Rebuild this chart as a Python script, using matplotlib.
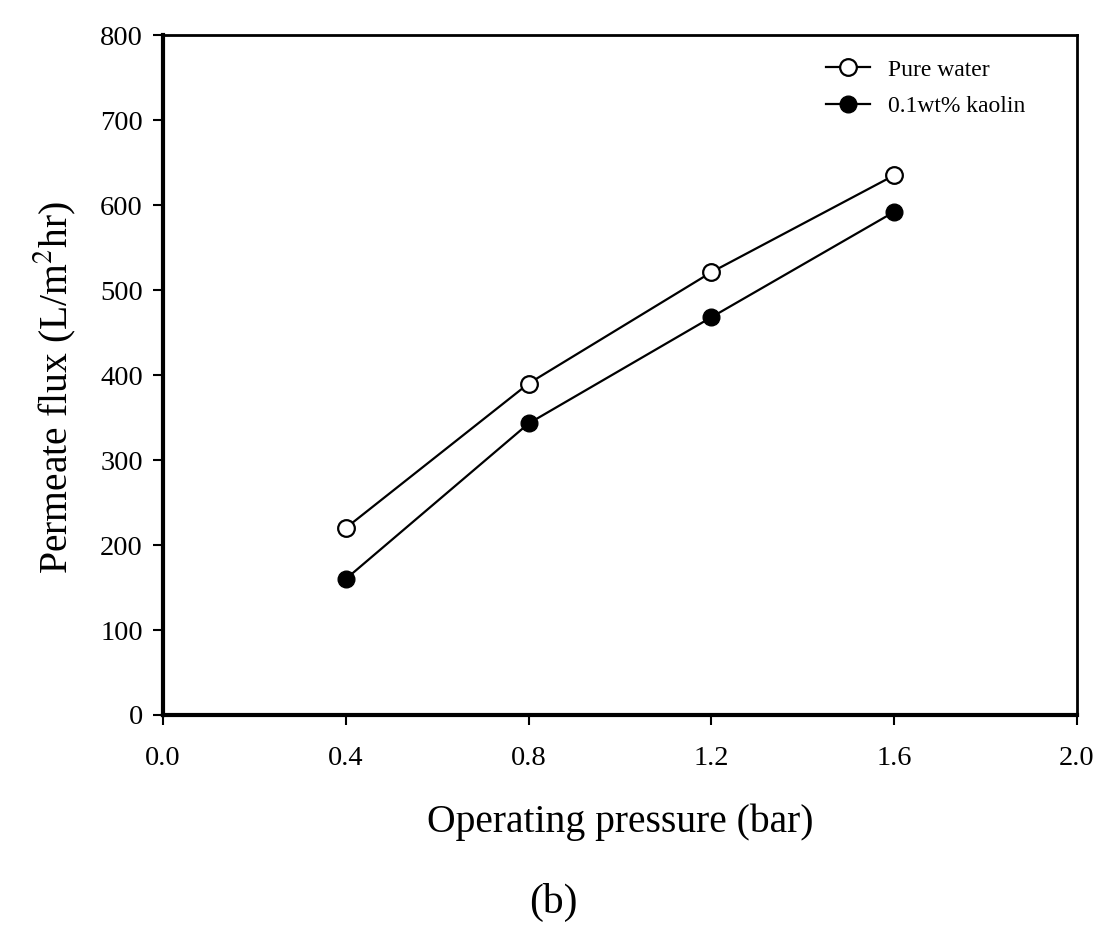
import matplotlib
matplotlib.use("Agg")
import matplotlib.pyplot as plt

plt.rcParams['font.family'] = ['Liberation Serif', 'DejaVu Serif']
plt.rcParams['mathtext.fontset'] = 'stix'

pressure = [0.4, 0.8, 1.2, 1.6]
pure_water = [220, 390, 521, 635]
kaolin = [160, 343, 468, 592]

fig = plt.figure(figsize=(11.05, 9.27), dpi=100)
ax = fig.add_axes([0.1475, 0.2287, 0.8272, 0.7335])

ax.plot(pressure, pure_water, '-o', color='black', lw=1.6, markersize=12,
        markerfacecolor='white', markeredgewidth=1.6, label='Pure water')
ax.plot(pressure, kaolin, '-o', color='black', lw=1.6, markersize=12,
        markerfacecolor='black', label='0.1wt% kaolin')

ax.set_xlim(0, 2.0)
ax.set_ylim(0, 800)
ax.set_xticks([0.0, 0.4, 0.8, 1.2, 1.6, 2.0])
ax.set_xticklabels(['0.0', '0.4', '0.8', '1.2', '1.6', '2.0'])
ax.set_yticks(range(0, 801, 100))
ax.tick_params(direction='out', length=7, width=1.5, labelsize=20.5)
ax.tick_params(axis='x', pad=15.5)
ax.tick_params(axis='y', pad=7.5)

for side in ['left', 'bottom']:
    ax.spines[side].set_linewidth(3)
for side in ['top', 'right']:
    ax.spines[side].set_linewidth(2)

ax.set_xlabel('Operating pressure (bar)', fontsize=28.5, labelpad=23)
ax.set_ylabel('Permeate flux (L/m$^2$hr)', fontsize=28.5)
ax.yaxis.set_label_coords(-0.093, 0.482)

ax.legend(loc='upper left', frameon=False, fontsize=17, handlelength=1.85,
          handletextpad=0.76, labelspacing=0.63, borderpad=0,
          borderaxespad=0, bbox_to_anchor=(0.7254, 0.9646))

fig.text(0.5005, 0.026, '(b)', fontsize=30, ha='center', va='center')

fig.savefig('out.png', dpi=100)
